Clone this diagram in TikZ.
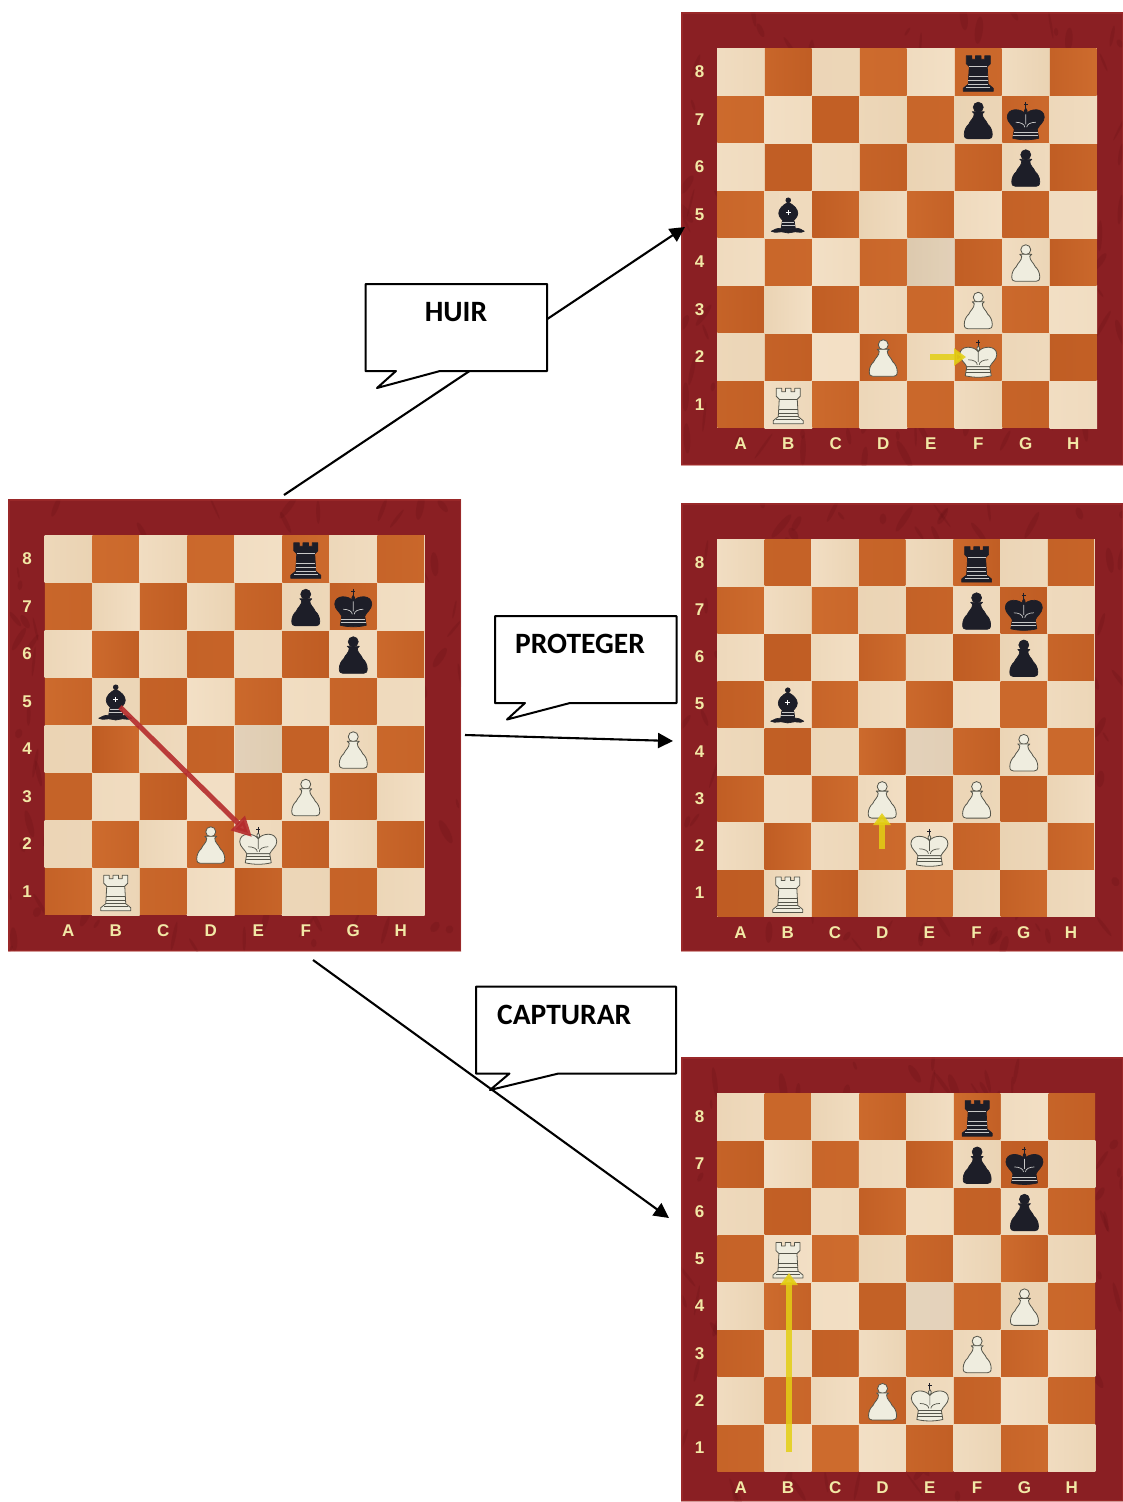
\documentclass[tikz,border=0pt]{standalone}
\usepackage{fontspec}
\setmainfont{Carlito}
\newfontfamily\lblfont{Liberation Sans}
\usetikzlibrary{arrows.meta}
\definecolor{frameRed}{HTML}{8A1F23}
\definecolor{frameDark}{HTML}{560C10}
\definecolor{frameLite}{HTML}{A8322F}
\definecolor{sqLa}{HTML}{F3E0C6}
\definecolor{sqLb}{HTML}{EAD3B3}
\definecolor{sqDa}{HTML}{CE6C2E}
\definecolor{sqDb}{HTML}{BF5C23}
\definecolor{lblYellow}{HTML}{F2E8A6}
\definecolor{pieceW}{HTML}{EFEDDF}
\definecolor{pieceWl}{HTML}{55554A}
\definecolor{pieceB}{HTML}{1D1E28}
\definecolor{pieceBl}{HTML}{C8C8C8}
\definecolor{arrRed}{HTML}{B52B2C}
\definecolor{arrYel}{HTML}{E3CF14}
\tikzset{
  boardframe/.style={rectangle,fill=frameRed,inner sep=0pt,outer sep=0pt},
  boardlabel/.style={font=\lblfont\bfseries\fontsize{17}{17}\selectfont,text=lblYellow,inner sep=0pt},
  pcW/.style={fill=pieceW,draw=pieceWl,line width=.8pt,line join=round},
  pcB/.style={fill=pieceB,draw=pieceB,line width=.7pt,line join=round},
  dtW/.style={draw=pieceWl,line width=.7pt},
  dtB/.style={draw=pieceBl,line width=.7pt},
  linkarrow/.style={draw=black,line width=2.1pt,-{Triangle[length=15pt,width=15pt]}},
  callout/.style={draw=black,fill=white,line width=2pt,line join=round},
  calltext/.style={font=\bfseries\fontsize{29.5}{29.5}\selectfont,text=black,inner sep=0pt},
  redmove/.style={draw=arrRed,opacity=.9,line width=5pt,-{Triangle[length=20pt,width=19pt]}},
  yelmove/.style={draw=arrYel,opacity=.85,line width=5.2pt,-{Triangle[length=12pt,width=17pt]}}
}
% pieces, local coordinates in pixels around the square centre, y downwards
\newcommand\pcpawn[1]{%
  \path[pc#1] (0,-12) circle[radius=5pt];
  \path[pc#1] (-6,-7.5) -- (6,-7.5) -- (4,-5.5) .. controls (4,-1) and (8,1) .. (9.5,5)
     .. controls (12,7) and (14,11) .. (14,15) .. controls (14,18.5) and (12.5,19.5) .. (10.5,19.5) -- (-10.5,19.5)
     .. controls (-12.5,19.5) and (-14,18.5) .. (-14,15) .. controls (-14,11) and (-12,7) .. (-9.5,5)
     .. controls (-8,1) and (-4,-1) .. (-4,-5.5) -- cycle;
}
\newcommand\pcrook[1]{%
  \path[pc#1] (-15,19.5) -- (15,19.5) -- (15,16.5) -- (12,14) -- (10,12.5) -- (9,-5) -- (12,-8) -- (12,-16)
     -- (6.5,-16) -- (6.5,-12.5) -- (2.8,-12.5) -- (2.8,-16) -- (-2.8,-16) -- (-2.8,-12.5) -- (-6.5,-12.5) -- (-6.5,-16)
     -- (-12,-16) -- (-12,-8) -- (-9,-5) -- (-10,12.5) -- (-12,14) -- (-15,16.5) -- cycle;
  \path[dt#1] (-9,-5) -- (9,-5);
  \path[dt#1] (-9.5,5) -- (9.5,5);
  \path[dt#1] (-9.8,9) -- (9.8,9);
  \path[dt#1] (-10,12.5) -- (10,12.5);
  \path[dt#1] (-12,15.5) -- (12,15.5);
}
\newcommand\pcking[1]{%
  \path[dt#1,draw=pieceB,line width=1pt] (0,-17) -- (0,-9) (-2,-14.5) -- (2,-14.5);
  \path[pc#1] (0,-5) .. controls (-2,-8) and (-1.5,-10) .. (0,-11) .. controls (1.5,-10) and (2,-8) .. (0,-5)
     .. controls (4,-11) and (18.5,-12) .. (18.5,-2) .. controls (18.5,3) and (13,6) .. (11.5,10)
     -- (-11.5,10) .. controls (-13,6) and (-18.5,3) .. (-18.5,-2) .. controls (-18.5,-12) and (-4,-11) .. (0,-5) -- cycle;
  \path[pc#1] (-11.5,10) -- (11.5,10) -- (13,19) .. controls (5,21) and (-5,21) .. (-13,19) -- cycle;
  \path[dt#1] (0,-5) -- (0,5) (-1,8) .. controls (-1,5) and (-5,3) .. (-10,3) (1,8) .. controls (1,5) and (5,3) .. (10,3);
  \path[dt#1] (-12,13) -- (12,13) (-12.5,16) -- (12.5,16);
}
\newcommand\pcbishop[1]{%
  \path[pc#1] (0,-14) circle[radius=2.4pt];
  \path[pc#1] (0,-12) .. controls (6,-9) and (9.5,-5) .. (9.5,-1) .. controls (9.5,3) and (6,5) .. (5,7)
     -- (-5,7) .. controls (-6,5) and (-9.5,3) .. (-9.5,-1) .. controls (-9.5,-5) and (-6,-9) .. (0,-12) -- cycle;
  \path[pc#1] (-6,7) -- (6,7) -- (7,14) -- (-7,14) -- cycle;
  \path[pc#1] (-7,14) .. controls (-11,14) and (-14,15) .. (-17,17) .. controls (-12,19.5) and (-8,16.5) .. (-4,18)
     .. controls (-1,19) and (1,19) .. (4,18) .. controls (8,16.5) and (12,19.5) .. (16,17) .. controls (13,15) and (11,14) .. (7,14) -- cycle;
  \path[draw=white,line width=.8pt] (-2.5,-1.5) -- (2.5,-1.5) (0,-4) -- (0,1);
  \path[dt#1] (-6,8.5) -- (6,8.5) (-6.5,11) -- (6.5,11);
}
\newcommand\putpc[4]{% type, file, rank, colour
  \pgfmathsetmacro\pcx{\bx+(#2-.5)*\sq}%
  \pgfmathsetmacro\pcy{\by+(8-#3+.5)*\sq}%
  \begin{scope}[shift={(\pcx,\pcy)}]
    \csname pc#1\endcsname{#4}
  \end{scope}
}
% name, outer x0,y0,x1,y1, inner x0,y0, square size, seed
\newcommand\chessboard[9]{%
  \pgfmathsetmacro\ox{#2}\pgfmathsetmacro\oy{#3}\pgfmathsetmacro\ex{#4}\pgfmathsetmacro\ey{#5}%
  \pgfmathsetmacro\bx{#6}\pgfmathsetmacro\by{#7}\pgfmathsetmacro\sq{#8}%
  \pgfmathsetmacro\ow{\ex-\ox}\pgfmathsetmacro\oh{\ey-\oy}%
  \pgfmathsetseed{#9}%
  \node[boardframe,anchor=north west,minimum width=\ow pt,minimum height=\oh pt] (#1) at (\ox,\oy) {};
  \begin{scope}
    \clip (\ox,\oy) rectangle (\ex,\ey);
    \foreach \k in {1,...,150}{%
      \pgfmathsetmacro\rx{\ox+rnd*\ow}\pgfmathsetmacro\ry{\oy+rnd*\oh}%
      \pgfmathsetmacro\rr{1+rnd*3}\pgfmathsetmacro\rq{4+rnd*12}\pgfmathsetmacro\ra{-40+rnd*80}%
      \fill[frameDark,opacity=.16,rotate around={\ra:(\rx,\ry)}] (\rx,\ry) ellipse[x radius=\rr pt,y radius=\rq pt];
    }
    \draw[frameLite,opacity=.5,line width=3pt] (\ox,\oy) rectangle (\ex,\ey);
  \end{scope}
  \pgfmathsetmacro\bex{\bx+8*\sq}\pgfmathsetmacro\bey{\by+8*\sq}%
  \fill[sqLa] (\bx,\by) rectangle (\bex,\bey);
  \foreach \f in {1,...,8}{\foreach \r in {1,...,8}{%
    \pgfmathsetmacro\sa{\bx+(\f-1)*\sq}\pgfmathsetmacro\sb{\by+(8-\r)*\sq}%
    \pgfmathsetmacro\sc{\sa+\sq}\pgfmathsetmacro\sd{\sb+\sq}%
    \pgfmathsetmacro\ma{int(rnd*100)}\pgfmathsetmacro\mb{int(rnd*100)}%
    \pgfmathparse{int(mod(\f+\r,2))}%
    \ifnum\pgfmathresult=0
      \shade[left color=sqDa!\ma!sqDb,right color=sqDa!\mb!sqDb] (\sa+.4,\sb+.4) rectangle (\sc-.4,\sd-.4);
    \else
      \shade[left color=sqLa!\ma!sqLb,right color=sqLa!\mb!sqLb] (\sa,\sb) rectangle (\sc,\sd);
    \fi
  }}
  \fill[gray,opacity=.12] (\bx+4*\sq,\by+4*\sq) rectangle +(\sq,\sq);
  \foreach \f/\l in {1/A,2/B,3/C,4/D,5/E,6/F,7/G,8/H}{%
    \node[boardlabel] (#1-file\l) at (\bx+\f*\sq-.5*\sq,\bey+16) {\l};
  }
  \foreach \r in {1,...,8}{%
    \node[boardlabel] (#1-rank\r) at (\bx-17.5,\by+8*\sq-\r*\sq+.5*\sq) {\r};
  }
}
\begin{document}
\begin{tikzpicture}[x=1pt,y=-1pt]
\useasboundingbox (0,0) rectangle (1123,1502);
\fill[white] (0,0) rectangle (1123,1502);

% main board
\chessboard{mainboard}{8}{499}{461}{951}{44.5}{535}{47.5}{11}
\putpc{rook}{6}{8}{B}\putpc{pawn}{6}{7}{B}\putpc{king}{7}{7}{B}\putpc{pawn}{7}{6}{B}
\putpc{bishop}{2}{5}{B}\putpc{pawn}{7}{4}{W}\putpc{pawn}{6}{3}{W}\putpc{pawn}{4}{2}{W}
\putpc{king}{5}{2}{W}\putpc{rook}{2}{1}{W}
\coordinate (redA) at (120,707);
\coordinate (redB) at (252,837);
\draw[redmove] (redA) -- (redB);

% top board
\chessboard{topboard}{681}{12}{1123}{465}{717}{48}{47.5}{23}
\putpc{rook}{6}{8}{B}\putpc{pawn}{6}{7}{B}\putpc{king}{7}{7}{B}\putpc{pawn}{7}{6}{B}
\putpc{bishop}{2}{5}{B}\putpc{pawn}{7}{4}{W}\putpc{pawn}{6}{3}{W}\putpc{pawn}{4}{2}{W}
\putpc{king}{6}{2}{W}\putpc{rook}{2}{1}{W}
\coordinate (yelA) at (930,357);
\coordinate (yelB) at (966,357);
\draw[yelmove] (yelA) -- (yelB);

% middle board
\chessboard{midboard}{681}{503}{1123}{951}{717}{539}{47.2}{37}
\putpc{rook}{6}{8}{B}\putpc{pawn}{6}{7}{B}\putpc{king}{7}{7}{B}\putpc{pawn}{7}{6}{B}
\putpc{bishop}{2}{5}{B}\putpc{pawn}{7}{4}{W}\putpc{pawn}{6}{3}{W}\putpc{pawn}{4}{3}{W}
\putpc{king}{5}{2}{W}\putpc{rook}{2}{1}{W}
\coordinate (yelC) at (882,849);
\coordinate (yelD) at (882,813);
\draw[yelmove] (yelC) -- (yelD);

% bottom board
\chessboard{botboard}{681}{1057}{1123}{1501}{717}{1093}{47.3}{53}
\putpc{rook}{6}{8}{B}\putpc{pawn}{6}{7}{B}\putpc{king}{7}{7}{B}\putpc{pawn}{7}{6}{B}
\putpc{rook}{2}{5}{W}\putpc{pawn}{7}{4}{W}\putpc{pawn}{6}{3}{W}\putpc{pawn}{4}{2}{W}
\putpc{king}{5}{2}{W}
\coordinate (yelE) at (789,1452);
\coordinate (yelF) at (789,1273);
\draw[yelmove] (yelE) -- (yelF);

% connectors
\coordinate (huirA) at (284,495);
\coordinate (huirB) at (685,227);
\coordinate (protA) at (465,735);
\coordinate (protB) at (673,741);
\coordinate (captA) at (313,960);
\coordinate (captB) at (669,1218);
\draw[linkarrow] (huirA) -- (huirB);
\draw[linkarrow] (protA) -- (protB);
\draw[linkarrow] (captA) -- (captB);

% callouts
\draw[callout] (365.5,284) -- (547,284) -- (547,371) -- (440,371) -- (377,388) -- (396,371) -- (365.5,371) -- cycle;
\node[calltext] (huir) at (456,312) {HUIR};
\draw[callout] (495,616) -- (676.5,616) -- (676.5,703) -- (570,703) -- (507,719.5) -- (525,703) -- (495,703) -- cycle;
\node[calltext,anchor=west] (proteger) at (515,644) {PROTEGER};
\draw[callout] (476,986.5) -- (676,986.5) -- (676,1073.5) -- (558.5,1073.5) -- (490,1090) -- (509.5,1073.5) -- (476,1073.5) -- cycle;
\node[calltext,anchor=west] (capturar) at (497,1015) {CAPTURAR};
\end{tikzpicture}
\end{document}
